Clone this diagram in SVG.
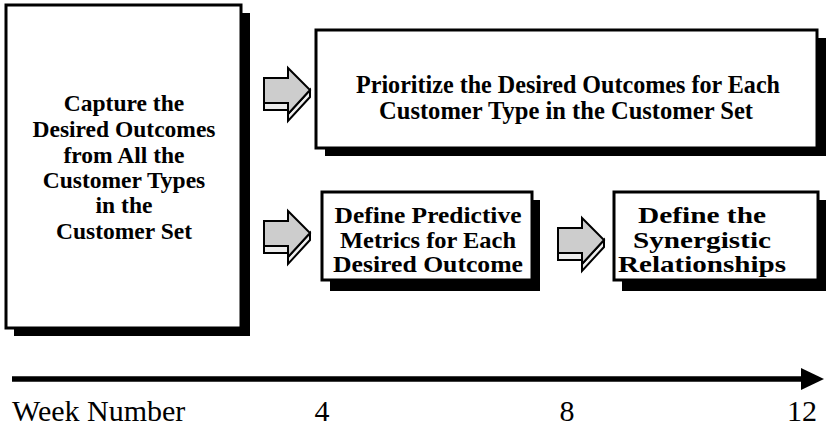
<svg xmlns="http://www.w3.org/2000/svg" xmlns:xlink="http://www.w3.org/1999/xlink" width="826" height="428" viewBox="0 0 826 428">
  <style>
    .box { fill: #ffffff; stroke: #000000; stroke-width: 3; }
    .shadow { fill: #000000; }
    .label { font-weight: bold; font-size: 23.5px; fill: #000000; text-anchor: middle; }
    .label.big { font-size: 25px; }
    .axis { font-size: 30px; fill: #000000; }
    .face { fill: #cdcdcd; stroke: #000000; stroke-width: 2; stroke-linejoin: miter; }
    .side { fill: #ececec; stroke: #000000; stroke-width: 2; stroke-linejoin: miter; }
  </style>
  <defs>
    <!-- block arrow with a little depth, drawn at its first position -->
    <g id="blockArrow">
      <polygon class="side" points="264,103 288,103 288,110 264,110"/>
      <polygon class="side" points="310,90 310,97 288,121 288,114"/>
      <polygon class="face" points="264,78 288,78 288,68 310,90 288,114 288,103 264,103"/>
    </g>
  </defs>

  <g font-family="Liberation Serif, Times New Roman, serif">
  <!-- step boxes -->
  <g id="capture">
    <rect class="shadow" x="14" y="13" width="236" height="323"/>
    <rect class="box" x="6" y="5" width="235" height="323"/>
    <text class="label" x="124" y="111">Capture the</text>
    <text class="label" x="124" y="137">Desired Outcomes</text>
    <text class="label" x="124" y="163">from All the</text>
    <text class="label" x="124" y="188">Customer Types</text>
    <text class="label" x="124" y="213">in the</text>
    <text class="label" x="124" y="239">Customer Set</text>
  </g>

  <g id="prioritize">
    <rect class="shadow" x="325" y="38" width="501" height="118"/>
    <rect class="box" x="316" y="30" width="501" height="118"/>
    <text class="label big" x="568" y="93" textLength="424" lengthAdjust="spacingAndGlyphs">Prioritize the Desired Outcomes for Each</text>
    <text class="label big" x="566" y="119" textLength="374" lengthAdjust="spacingAndGlyphs">Customer Type in the Customer Set</text>
  </g>

  <g id="metrics">
    <rect class="shadow" x="330" y="200" width="210" height="91"/>
    <rect class="box" x="322" y="192" width="210" height="88"/>
    <text class="label" x="428" y="223" textLength="187" lengthAdjust="spacingAndGlyphs">Define Predictive</text>
    <text class="label" x="428" y="248" textLength="176" lengthAdjust="spacingAndGlyphs">Metrics for Each</text>
    <text class="label" x="428" y="272" textLength="190" lengthAdjust="spacingAndGlyphs">Desired Outcome</text>
  </g>

  <g id="synergy">
    <rect class="shadow" x="622" y="200" width="204" height="91"/>
    <rect class="box" x="614" y="192" width="204" height="88"/>
    <text class="label" x="702" y="223" textLength="128" lengthAdjust="spacingAndGlyphs">Define the</text>
    <text class="label" x="702" y="248" textLength="138" lengthAdjust="spacingAndGlyphs">Synergistic</text>
    <text class="label" x="702" y="272" textLength="168" lengthAdjust="spacingAndGlyphs">Relationships</text>
  </g>

  <!-- connectors between steps -->
  <g id="connectors">
    <use xlink:href="#blockArrow"/>
    <use xlink:href="#blockArrow" transform="translate(0,143)"/>
    <use xlink:href="#blockArrow" transform="translate(294,150)"/>
  </g>

  <!-- time axis -->
  <g id="timeline">
    <line x1="12" y1="379" x2="806" y2="379" stroke="#000000" stroke-width="5.5"/>
    <polygon points="801,368 824,379 801,390" fill="#000000"/>
    <text class="axis" x="12" y="421">Week Number</text>
    <text class="axis" x="322" y="421" text-anchor="middle">4</text>
    <text class="axis" x="567" y="421" text-anchor="middle">8</text>
    <text class="axis" x="817" y="421" text-anchor="end">12</text>
  </g>
  </g>
</svg>
